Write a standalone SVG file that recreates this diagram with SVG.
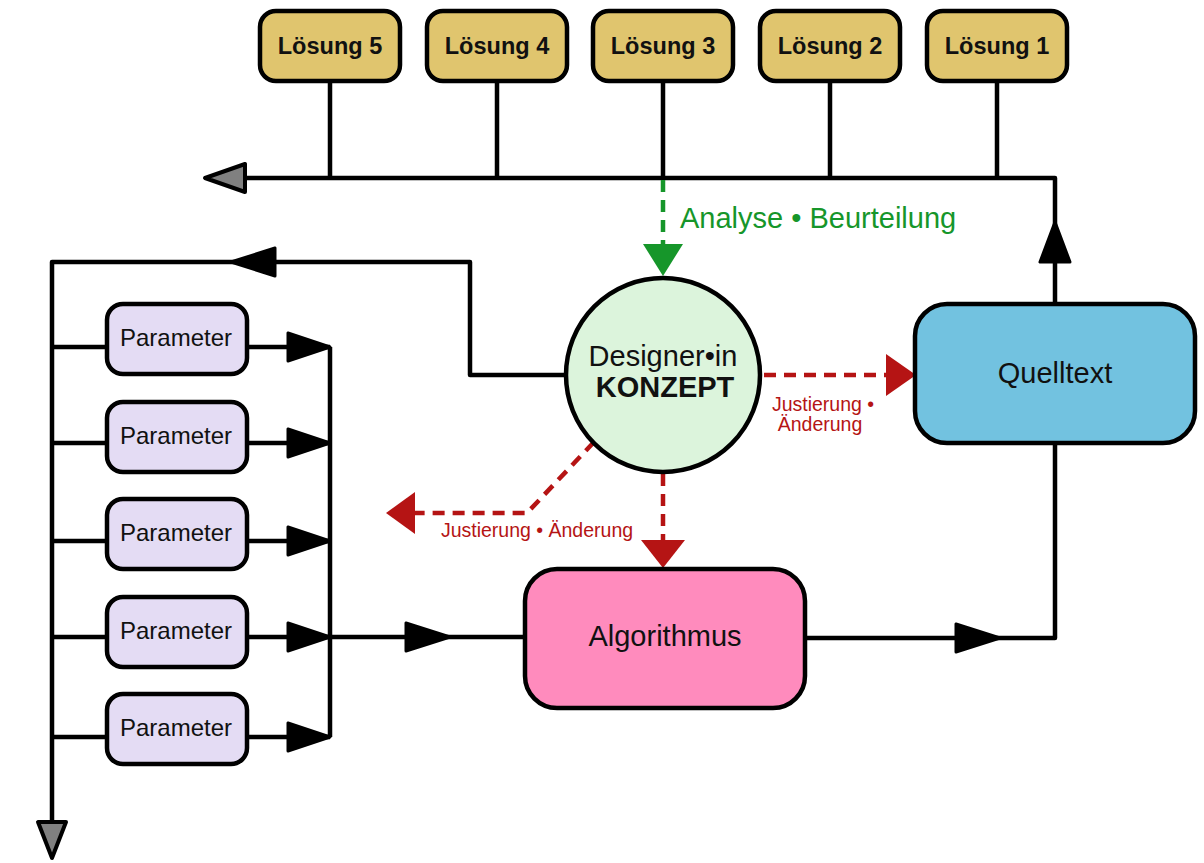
<svg xmlns="http://www.w3.org/2000/svg" width="1204" height="863" viewBox="0 0 1204 863">
<style>
.ln{fill:none;stroke:#000;stroke-width:4.5;stroke-linejoin:round}
.box{stroke:#000;stroke-width:4.5}
.sol{fill:#e0c56e}
.par{fill:#e4dcf4}
.t{font-family:"Liberation Sans",Arial,sans-serif;fill:#111;text-anchor:middle}
.ah{fill:#000;stroke:#000;stroke-width:3;stroke-linejoin:round}
.gh{fill:#808080;stroke:#000;stroke-width:4;stroke-linejoin:round}
.rd{fill:none;stroke:#b51414;stroke-width:4.5;stroke-dasharray:12,8}
.rh{fill:#b51414}
.rt{font-family:"Liberation Sans",Arial,sans-serif;fill:#b51414;font-size:19.5px;text-anchor:middle}
</style>
<g id="connectors">
  <path class="ln" d="M330 82V178M497 82V178M663 82V178M830 82V178M997 82V178"/>
  <path class="ln" d="M1055 303V178H245"/>
  <polygon class="gh" points="205,178 245,164 245,192"/>
  <polygon class="ah" points="1055,222 1040,262 1070,262"/>
  <path class="ln" d="M805 638H1055V443"/>
  <polygon class="ah" points="1000,638 956,624 956,652"/>
  <path class="ln" d="M565 375H470V262H52V822"/>
  <polygon class="ah" points="231,262 275,248 275,276"/>
  <polygon class="gh" points="52,858 38,822 66,822"/>
  <path class="ln" d="M52 347H107M52 443H107M52 541H107M52 637H107M52 737H107"/>
  <path class="ln" d="M247 347H330M247 443H330M247 541H330M247 637H330M247 737H330M330 347V737M330 637H525"/>
  <polygon class="ah" points="330,347 288,333 288,361"/>
  <polygon class="ah" points="330,443 288,429 288,457"/>
  <polygon class="ah" points="330,541 288,527 288,555"/>
  <polygon class="ah" points="330,637 288,623 288,651"/>
  <polygon class="ah" points="330,737 288,723 288,751"/>
  <polygon class="ah" points="450,637 406,623 406,651"/>
  <path d="M663 180V248" fill="none" stroke="#16962a" stroke-width="4.5" stroke-dasharray="12,8"/>
  <polygon fill="#16962a" points="663,276 643,244 683,244"/>
  <text x="680" y="228" font-family="Liberation Sans,Arial,sans-serif" font-size="29" fill="#16962a">Analyse • Beurteilung</text>
  <path class="rd" d="M764 375H888"/>
  <polygon class="rh" points="916,375 886,354 886,396"/>
  <text class="rt" x="823" y="411">Justierung •</text>
  <text class="rt" x="820" y="431">Änderung</text>
  <path class="rd" d="M663 474V540"/>
  <polygon class="rh" points="663,568 641,540 685,540"/>
  <path class="rd" d="M594 442L527 513H414"/>
  <polygon class="rh" points="386,513 415,492 415,534"/>
  <text class="rt" x="537" y="537">Justierung • Änderung</text>
</g>
<g id="loesung5"><rect class="box sol" x="260" y="11" width="140" height="70" rx="16"/><text class="t" x="330" y="54" font-size="23.5" font-weight="bold">Lösung 5</text></g>
<g id="loesung4"><rect class="box sol" x="427" y="11" width="140" height="70" rx="16"/><text class="t" x="497" y="54" font-size="23.5" font-weight="bold">Lösung 4</text></g>
<g id="loesung3"><rect class="box sol" x="593" y="11" width="140" height="70" rx="16"/><text class="t" x="663" y="54" font-size="23.5" font-weight="bold">Lösung 3</text></g>
<g id="loesung2"><rect class="box sol" x="760" y="11" width="140" height="70" rx="16"/><text class="t" x="830" y="54" font-size="23.5" font-weight="bold">Lösung 2</text></g>
<g id="loesung1"><rect class="box sol" x="927" y="11" width="140" height="70" rx="16"/><text class="t" x="997" y="54" font-size="23.5" font-weight="bold">Lösung 1</text></g>
<g id="param1"><rect class="box par" x="107" y="304" width="140" height="70" rx="16"/><text class="t" x="176" y="346" font-size="24">Parameter</text></g>
<g id="param2"><rect class="box par" x="107" y="402" width="140" height="70" rx="16"/><text class="t" x="176" y="444" font-size="24">Parameter</text></g>
<g id="param3"><rect class="box par" x="107" y="499" width="140" height="70" rx="16"/><text class="t" x="176" y="541" font-size="24">Parameter</text></g>
<g id="param4"><rect class="box par" x="107" y="597" width="140" height="70" rx="16"/><text class="t" x="176" y="639" font-size="24">Parameter</text></g>
<g id="param5"><rect class="box par" x="107" y="694" width="140" height="70" rx="16"/><text class="t" x="176" y="736" font-size="24">Parameter</text></g>
<g id="designer"><circle class="box" cx="663" cy="375" r="97" fill="#dcf4dc"/><text class="t" x="663" y="366" font-size="29">Designer•in</text><text class="t" x="665" y="397" font-size="29" font-weight="bold">KONZEPT</text></g>
<g id="quelltext"><rect class="box" x="915" y="304" width="280" height="139" rx="32" fill="#72c2e0"/><text class="t" x="1055" y="383" font-size="29">Quelltext</text></g>
<g id="algorithmus"><rect class="box" x="525" y="569" width="280" height="139" rx="32" fill="#ff8bbd"/><text class="t" x="665" y="646" font-size="29">Algorithmus</text></g>
</svg>
